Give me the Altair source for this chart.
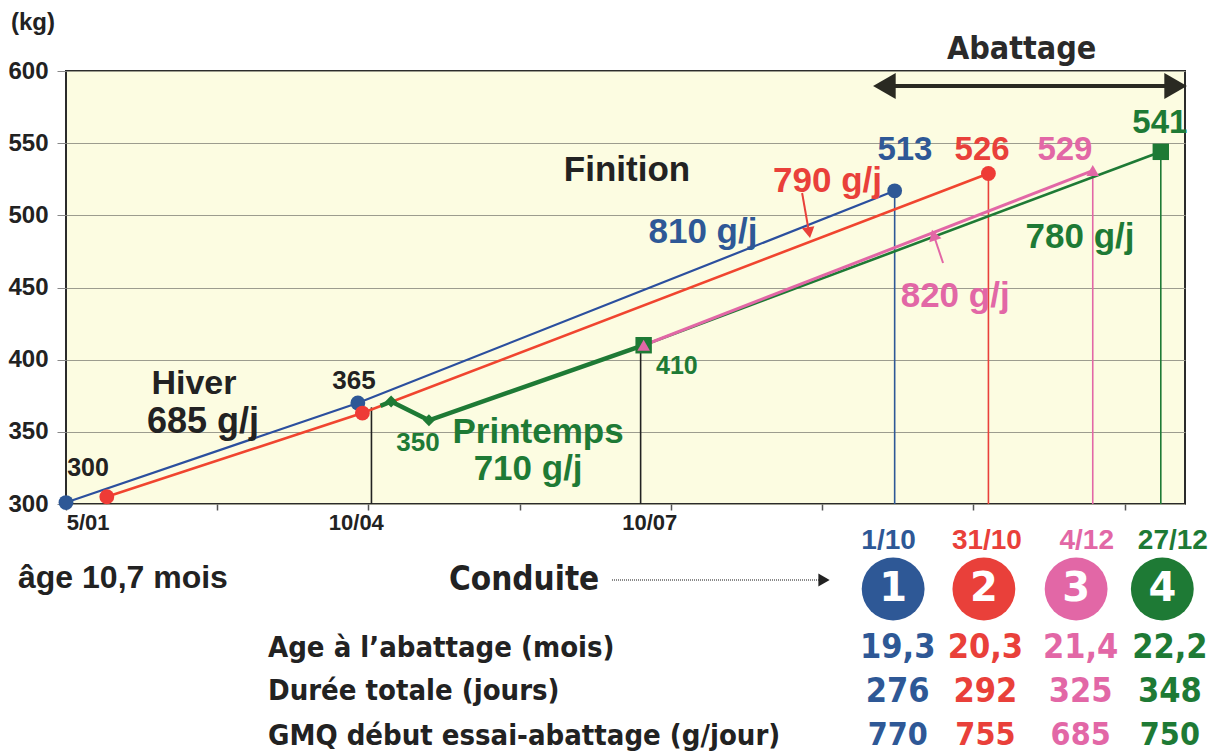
import altair as alt
import pandas as pd

# ---------------- colours ----------------
BLUE = "#2E5896"
RED = "#E9403A"
RED_LINE = "#F0452F"
PINK = "#E267A6"
GREEN = "#1E7A35"
INK = "#222222"

ARIAL = "Liberation Sans"
COND = "DejaVu Sans Condensed, Liberation Sans Narrow, DejaVu Sans"

# ---------------- series (x = days from 5 January, y = live weight kg) ----------------
blue_day = [0, 96.5, 274]
blue_kg = [301, 370, 517]
red_day = [13.5, 98, 305]
red_kg = [305, 363, 529]
green_spring_day = [104, 107.5, 120, 191]
green_spring_kg = [368, 371, 358, 410]
green_finish_day = [191, 362]
green_finish_kg = [410, 544]
pink_day = [191, 339.5]
pink_kg = [410, 531]

# vertical drop lines (day, top weight)
drop_day = [101, 190, 274, 305, 339.5, 362]
drop_top = [367, 410, 517, 529, 531, 544]
drop_color = [INK, INK, BLUE, RED, PINK, GREEN]

# x labels
date_labels = ["5/01", "10/04", "10/07"]
date_label_day = [7.3, 96, 193]

# slaughter weights (labels)
slaughter_weight = ["513", "526", "529", "541"]

# table
lots = ["1", "2", "3", "4"]
lot_colors = [BLUE, RED, PINK, GREEN]
slaughter_dates = ["1/10", "31/10", "4/12", "27/12"]
age_months = ["19,3", "20,3", "21,4", "22,2"]
duree_days = ["276", "292", "325", "348"]
gmq = ["770", "755", "685", "750"]
row_labels = ["Age à l’abattage (mois)", "Durée totale (jours)",
              "GMQ début essai-abattage (g/jour)"]

# ---------------- scales ----------------
XS = alt.Scale(domain=[0, 370], nice=False, zero=False)
YS = alt.Scale(domain=[300, 600], nice=False, zero=False)
XA = alt.Axis(values=list(range(0, 371, 50)), labels=False, ticks=True, tickSize=6,
              tickColor="#555555", tickWidth=1.5, domain=False, grid=False, title=None)
YA = alt.Axis(values=list(range(300, 601, 50)), labelFont=ARIAL, labelFontWeight="bold",
              labelFontSize=24, labelColor=INK, tickSize=9, tickColor="#888888",
              labelPadding=9, domain=False, grid=True, gridColor="#9c9c8e",
              gridWidth=1.2, title=None)

X = alt.X("day:Q", scale=XS, axis=XA, title=None)
Y = alt.Y("kg:Q", scale=YS, axis=YA, title=None)

X0, Y0 = 66, 71  # plot-area origin on the page


def df_xy(days, kgs):
    return pd.DataFrame({"day": days, "kg": kgs})


layers = []

# drop lines
drops = pd.DataFrame({"day": drop_day, "kg": drop_top, "base": [300] * len(drop_day),
                      "c": drop_color})
layers.append(alt.Chart(drops).mark_rule(strokeWidth=1.6).encode(
    x=X, y=Y, y2="base:Q", color=alt.Color("c:N", scale=None)))

# lines
for d, k, col, w in [(blue_day, blue_kg, "#2B4F9E", 2.2),
                     (red_day, red_kg, RED_LINE, 2.6),
                     (green_spring_day, green_spring_kg, GREEN, 4.5),
                     (green_finish_day, green_finish_kg, GREEN, 2.6),
                     (pink_day, pink_kg, PINK, 3.0)]:
    layers.append(alt.Chart(df_xy(d, k)).mark_line(color=col, strokeWidth=w).encode(x=X, y=Y))

# markers
layers.append(alt.Chart(df_xy(blue_day, blue_kg)).mark_point(
    shape="circle", filled=True, size=220, color=BLUE, opacity=1).encode(x=X, y=Y))
layers.append(alt.Chart(df_xy(red_day, red_kg)).mark_point(
    shape="circle", filled=True, size=220, color="#EE3B36", opacity=1).encode(x=X, y=Y))
layers.append(alt.Chart(df_xy(green_spring_day[1:3], green_spring_kg[1:3])).mark_point(
    shape="diamond", filled=True, size=140, color=GREEN, opacity=1).encode(x=X, y=Y))
layers.append(alt.Chart(df_xy([green_spring_day[-1], green_finish_day[-1]],
                              [green_spring_kg[-1], green_finish_kg[-1]])).mark_point(
    shape="square", filled=True, size=270, color=GREEN, opacity=1).encode(x=X, y=Y))
layers.append(alt.Chart(df_xy(pink_day, pink_kg)).mark_point(
    shape="triangle-up", filled=True, size=160, color=PINK, opacity=1).encode(x=X, y=Y))

# gain arrows (red 790 g/j, pink 820 g/j)
for tail, head, ang, col in [((243.4, 515.5), (245.7, 488.0), 170, RED),
                             ((290.0, 467.0), (286.9, 486.4), 342, PINK)]:
    seg = pd.DataFrame({"day": [tail[0]], "kg": [tail[1]], "d2": [head[0]], "k2": [head[1]]})
    layers.append(alt.Chart(seg).mark_rule(color=col, strokeWidth=2).encode(
        x=X, y=Y, x2="d2:Q", y2="k2:Q"))
    layers.append(alt.Chart(df_xy([head[0]], [head[1]])).mark_point(
        shape="triangle-up", filled=True, size=160, angle=ang, color=col, opacity=1
    ).encode(x=X, y=Y))

# Abattage double arrow
shaft = pd.DataFrame({"day": [270], "kg": [589.6], "d2": [367], "k2": [589.6]})
layers.append(alt.Chart(shaft).mark_rule(color="#2a2a22", strokeWidth=4).encode(
    x=X, y=Y, x2="d2:Q", y2="k2:Q"))
layers.append(alt.Chart(df_xy([270.6], [589.6])).mark_point(
    shape="triangle-left", filled=True, size=680, color="#2a2a22", opacity=1).encode(x=X, y=Y))
layers.append(alt.Chart(df_xy([366.9], [589.6])).mark_point(
    shape="triangle-right", filled=True, size=680, color="#2a2a22", opacity=1).encode(x=X, y=Y))

# in-plot annotations
ann = pd.DataFrame([
    ("300", 7.3, 325.0, INK, 25),
    ("365", 95.2, 385.2, INK, 26),
    ("Hiver", 42.3, 383.1, INK, 34),
    ("685 g/j", 45.3, 356.8, INK, 36),
    ("350", 116.4, 342.3, GREEN, 26),
    ("Printemps", 156.1, 349.9, GREEN, 35),
    ("710 g/j", 152.8, 324.2, GREEN, 35),
    ("410", 202.0, 395.6, GREEN, 25),
    ("Finition", 185.5, 531.4, INK, 35),
    ("810 g/j", 210.6, 488.5, BLUE, 35),
    ("790 g/j", 251.8, 523.8, RED, 35),
    ("820 g/j", 294.0, 444.1, PINK, 35),
    ("780 g/j", 335.3, 485.0, GREEN, 35),
    (slaughter_weight[0], 277.4, 545.3, BLUE, 33),
    (slaughter_weight[1], 302.9, 545.3, RED, 33),
    (slaughter_weight[2], 330.3, 545.3, PINK, 33),
    (slaughter_weight[3], 361.7, 564.0, GREEN, 33),
], columns=["t", "day", "kg", "c", "s"])
layers.append(alt.Chart(ann).mark_text(font=ARIAL, fontWeight="bold", baseline="middle").encode(
    x=X, y=Y, text="t:N", color=alt.Color("c:N", scale=None), size=alt.Size("s:Q", scale=None)))

# Abattage title
layers.append(alt.Chart(pd.DataFrame({"day": [316], "kg": [615.5], "t": ["Abattage"]})).mark_text(
    font=COND, fontWeight="bold", fontSize=32, color="#2a2a2a", baseline="middle").encode(
    x=X, y=Y, text="t:N"))

# x date labels under axis
xl = pd.DataFrame({"day": date_label_day, "t": date_labels})
layers.append(alt.Chart(xl).mark_text(font=ARIAL, fontWeight="bold", fontSize=22,
                                      color=INK, baseline="middle").encode(
    x=X, y=alt.value(523 - Y0), text="t:N"))


def ptext(text, px, py, color, size, font=ARIAL, align="left", weight="bold"):
    return alt.Chart(pd.DataFrame({"t": [text]})).mark_text(
        font=font, fontWeight=weight, fontSize=size, color=color, align=align,
        baseline="middle").encode(x=alt.value(px - X0), y=alt.value(py - Y0), text="t:N")


layers.append(ptext("(kg)", 11, 23, INK, 24))
layers.append(ptext("âge 10,7 mois", 18, 578, INK, 32))
layers.append(ptext("Conduite", 449, 580, INK, 33, font=COND))
# dotted arrow after Conduite
layers.append(alt.Chart(pd.DataFrame({"k": [0]})).mark_rule(
    color="#8a8a8a", strokeWidth=2, strokeDash=[1, 1]).encode(
    x=alt.value(612 - X0), x2=alt.value(820 - X0), y=alt.value(580 - Y0)))
layers.append(alt.Chart(pd.DataFrame({"k": [0]})).mark_point(
    shape="triangle-right", filled=True, size=170, color=INK, opacity=1).encode(
    x=alt.value(824 - X0), y=alt.value(580 - Y0)))

for lbl, py in zip(row_labels, [648, 691, 736]):
    layers.append(ptext(lbl, 268, py, INK, 29, font=COND))

# table columns (placed on the day axis)
circle_day = [273.5, 303.5, 334, 362.5]
date_day = [272, 304.5, 337.5, 366]
val_day = [275, 304, 335.5, 365]

circ = pd.DataFrame({"day": circle_day, "c": lot_colors, "t": lots})
layers.append(alt.Chart(circ).mark_point(shape="circle", filled=True, size=3950, opacity=1).encode(
    x=X, y=alt.value(589 - Y0), color=alt.Color("c:N", scale=None)))
layers.append(alt.Chart(circ).mark_text(font="DejaVu Sans", fontWeight="bold", fontSize=40,
                                        color="white", baseline="middle").encode(
    x=X, y=alt.value(589 - Y0), text="t:N"))

dd = pd.DataFrame({"day": date_day, "c": lot_colors, "t": slaughter_dates})
layers.append(alt.Chart(dd).mark_text(font=ARIAL, fontWeight="bold", fontSize=28,
                                      baseline="middle").encode(
    x=X, y=alt.value(541 - Y0), text="t:N", color=alt.Color("c:N", scale=None)))

for vals, py, fs in [(age_months, 648, 34), (duree_days, 692, 34), (gmq, 735, 32)]:
    vd = pd.DataFrame({"day": val_day, "c": lot_colors, "t": vals})
    layers.append(alt.Chart(vd).mark_text(font=COND, fontWeight="bold", fontSize=fs,
                                          baseline="middle").encode(
        x=X, y=alt.value(py - Y0), text="t:N", color=alt.Color("c:N", scale=None)))

chart = alt.layer(*layers).properties(
    width=1119, height=433,
    autosize=alt.AutoSizeParams(type="none"),
    padding={"left": 58, "top": 63, "right": 26, "bottom": 250},
).configure_view(fill="#FCFCE1", stroke="#2b2b2b", strokeWidth=2)

chart.save("out.html", embed_options={"renderer": "svg", "actions": False})
